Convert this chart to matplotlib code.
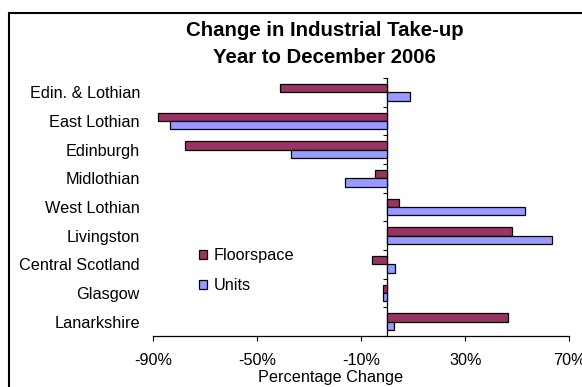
import matplotlib
matplotlib.use("Agg")
import matplotlib.pyplot as plt
from matplotlib.patches import Rectangle
import numpy as np

plt.rcParams['font.family'] = ['Liberation Sans', 'DejaVu Sans']

# Data: percentage change in industrial take-up, year to December 2006
areas = ["Edin. & Lothian", "East Lothian", "Edinburgh", "Midlothian",
         "West Lothian", "Livingston", "Central Scotland", "Glasgow",
         "Lanarkshire"]
floorspace = [-41.3, -88.1, -77.9, -4.7, 4.4, 47.8, -5.8, -1.6, 46.5]
units = [8.7, -83.4, -37.1, -16.1, 53.1, 63.3, 3.0, -1.7, 2.6]
xticks = [-90, -50, -10, 30, 70]
xtick_labels = ["-90%", "-50%", "-10%", "30%", "70%"]

W, H = 582, 387
fig = plt.figure(figsize=(W / 100, H / 100), dpi=100)
fig.patch.set_facecolor("white")

# plot area in pixel terms
left_px, right_px, top_px, bottom_px = 153.3, 569.3, 78.0, 336.0
ax = fig.add_axes([left_px / W, 1 - bottom_px / H,
                   (right_px - left_px) / W, (bottom_px - top_px) / H])

y = np.arange(len(areas))
h = 0.29
ax.barh(y - h / 2, floorspace, height=h, color="#993366",
        edgecolor="black", linewidth=0.9, label="Floorspace", zorder=2)
ax.barh(y + h / 2, units, height=h, color="#9999FF",
        edgecolor="black", linewidth=0.9, label="Units", zorder=2)

ax.set_xlim(-90, 70)
ax.set_ylim(len(areas) - 0.5, -0.5)

fs = 11.7
ax.set_xticks(xticks)
ax.set_xticklabels(xtick_labels, fontsize=fs)
ax.set_yticks(y)
ax.set_yticklabels(areas, fontsize=fs)
ax.tick_params(axis="y", length=0, pad=9.6)
ax.tick_params(axis="x", direction="out", length=3.6, width=0.8, pad=8.5)

for s in ("top", "right", "left"):
    ax.spines[s].set_visible(False)
ax.spines["bottom"].set_linewidth(0.9)

# vertical zero axis with category-boundary ticks
zero_frac = (0 - (-90)) / (70 - (-90))
sec = ax.secondary_yaxis(zero_frac)
sec.set_alignment("left")
sec.set_yticks(np.arange(-0.5, len(areas), 1.0))
sec.set_yticklabels([])
sec.tick_params(axis="y", direction="out", length=2.9, width=0.8)
sec.spines["left"].set_linewidth(0.9)

# titles and axis label
fig.text(324.8 / W, 1 - 36 / H, "Change in Industrial Take-up",
         ha="center", va="baseline", fontsize=14.7, fontweight="bold")
fig.text(324.8 / W, 1 - 63 / H, "Year to December 2006",
         ha="center", va="baseline", fontsize=14.7, fontweight="bold")
fig.text(330.5 / W, 1 - 381.7 / H, "Percentage Change",
         ha="center", va="baseline", fontsize=fs)

leg = ax.legend(loc="upper left", bbox_to_anchor=(199 / W, 1 - 248.0 / H),
                bbox_transform=fig.transFigure, frameon=False, fontsize=fs,
                handlelength=0.5, handleheight=0.5, handletextpad=0.43,
                labelspacing=0.92, borderpad=0, borderaxespad=0)

# outer chart border
fig.add_artist(Rectangle((9.3 / W, -0.1), 1.2, (H - 12.7) / H + 0.1,
                         transform=fig.transFigure, fill=False,
                         edgecolor="black", linewidth=1.5))

fig.savefig("out.png", dpi=100)
